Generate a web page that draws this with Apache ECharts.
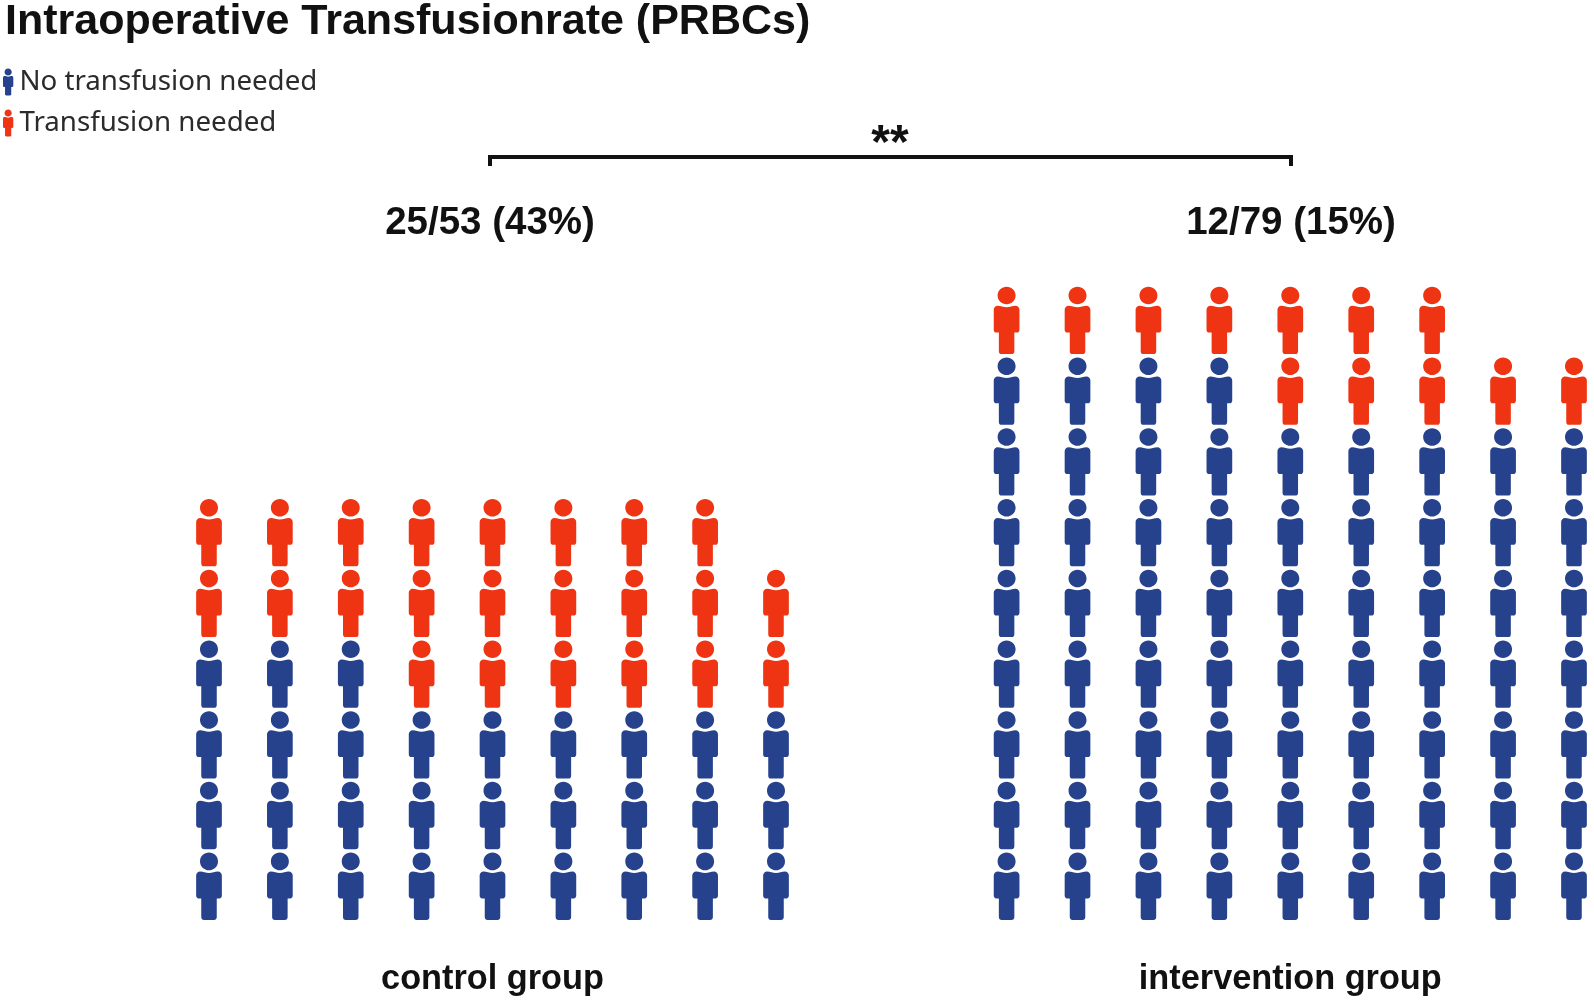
<!DOCTYPE html>
<html>
<head>
<meta charset="utf-8">
<style>html,body{margin:0;padding:0;background:#fff}#c{width:1594px;height:1000px}</style>
<script src="https://cdn.jsdelivr.net/npm/echarts@6/dist/echarts.min.js"></script>
</head>
<body>
<div id="c"></div>
<script>
const titleText = 'Intraoperative Transfusionrate (PRBCs)';
const seriesNames = ['No transfusion needed', 'Transfusion needed'];
const groupNames = ['control group', 'intervention group'];
const groupLabels = ['25/53 (43%)', '12/79 (15%)'];
// icons per column
const controlBlue = [4, 4, 4, 3, 3, 3, 3, 3, 3];
const controlRed = [2, 2, 2, 3, 3, 3, 3, 3, 2];
const interventionBlue = [8, 8, 8, 8, 7, 7, 7, 7, 7];
const interventionRed = [1, 1, 1, 1, 2, 2, 2, 1, 1];

const BLUE = '#26428c';
const RED = '#ee3412';
const PERSON = 'path://M128.5 0C178 0 218.5 38.5 218.5 88C218.5 137.5 178 176 128.5 176C79 176 38.5 137.5 38.5 88C38.5 38.5 79 0 128.5 0Z' +
  'M40 190C70 190 95 205 128.5 205C162 205 187 190 217 190C240 190 257 207 257 230L257 430C257 447 247 459 232 459L206 459L206 645C206 664 195 674 177 674L80 674C62 674 51 664 51 645L51 459L25 459C10 459 0 447 0 430L0 230C0 207 17 190 40 190Z';

function bluePoints(blue) {
  const pts = [];
  blue.forEach((n, col) => { for (let r = 0; r < n; r++) pts.push([col, r]); });
  return pts;
}
function redPoints(blue, red) {
  const pts = [];
  red.forEach((n, col) => { for (let r = 0; r < n; r++) pts.push([col, blue[col] + r]); });
  return pts;
}
function personSeries(name, color, data, idx) {
  return {
    name, type: 'scatter', xAxisIndex: idx, yAxisIndex: idx, data,
    symbol: PERSON, symbolSize: [25.7, 67.4], silent: true,
    itemStyle: { color, opacity: 1 }
  };
}
function xAxis(idx, name) {
  return {
    gridIndex: idx, type: 'value', min: 0, max: 8, interval: 1,
    name, nameLocation: 'middle', nameGap: 76,
    nameTextStyle: { fontFamily: 'Liberation Sans', fontWeight: 'bold', fontSize: 34.3, color: '#111' },
    axisLine: { show: false }, axisTick: { show: false }, axisLabel: { show: false }, splitLine: { show: false }
  };
}
function yAxis(idx) {
  return {
    gridIndex: idx, type: 'value', min: 0, max: 8, interval: 1, show: false,
    splitLine: { show: false }
  };
}
const boldText = (text, x, y, size) => ({
  type: 'text', x, y,
  style: { text, fontFamily: 'Liberation Sans', fontWeight: 'bold', fontSize: size, fill: '#111', align: 'center', verticalAlign: 'middle' }
});

const chart = echarts.init(document.getElementById('c'), null, { renderer: 'canvas' });
chart.setOption({
  animation: false,
  backgroundColor: '#fff',
  title: {
    text: titleText, left: 5, top: 1, padding: 0,
    textStyle: { fontFamily: 'Liberation Sans', fontWeight: 'bold', fontSize: 43, color: '#111' }
  },
  legend: {
    orient: 'vertical', left: 3, top: 68, padding: 0, itemWidth: 10.5, itemHeight: 27, itemGap: 13,
    data: seriesNames.map(name => ({ name, icon: PERSON })),
    textStyle: { fontFamily: 'Noto Sans', fontSize: 27.7, color: '#2b2b2b', padding: [4, 0, 0, 1] },
    selectedMode: false
  },
  grid: [
    { left: 209, width: 567, top: 320.4, height: 565.9, outerBoundsMode: 'none' },
    { left: 1006.6, width: 567.4, top: 320.4, height: 565.9, outerBoundsMode: 'none' }
  ],
  xAxis: [xAxis(0, groupNames[0]), xAxis(1, groupNames[1])],
  yAxis: [yAxis(0), yAxis(1)],
  series: [
    personSeries(seriesNames[0], BLUE, bluePoints(controlBlue), 0),
    personSeries(seriesNames[1], RED, redPoints(controlBlue, controlRed), 0),
    personSeries(seriesNames[0], BLUE, bluePoints(interventionBlue), 1),
    personSeries(seriesNames[1], RED, redPoints(interventionBlue, interventionRed), 1)
  ],
  graphic: [
    { type: 'polyline', shape: { points: [[490, 166], [490, 157], [1291, 157], [1291, 166]] }, style: { stroke: '#111', lineWidth: 4, fill: null } },
    boldText('**', 890, 145, 48),
    boldText(groupLabels[0], 490, 223, 38.5),
    boldText(groupLabels[1], 1291, 223, 38.5)
  ]
});
</script>
</body>
</html>
